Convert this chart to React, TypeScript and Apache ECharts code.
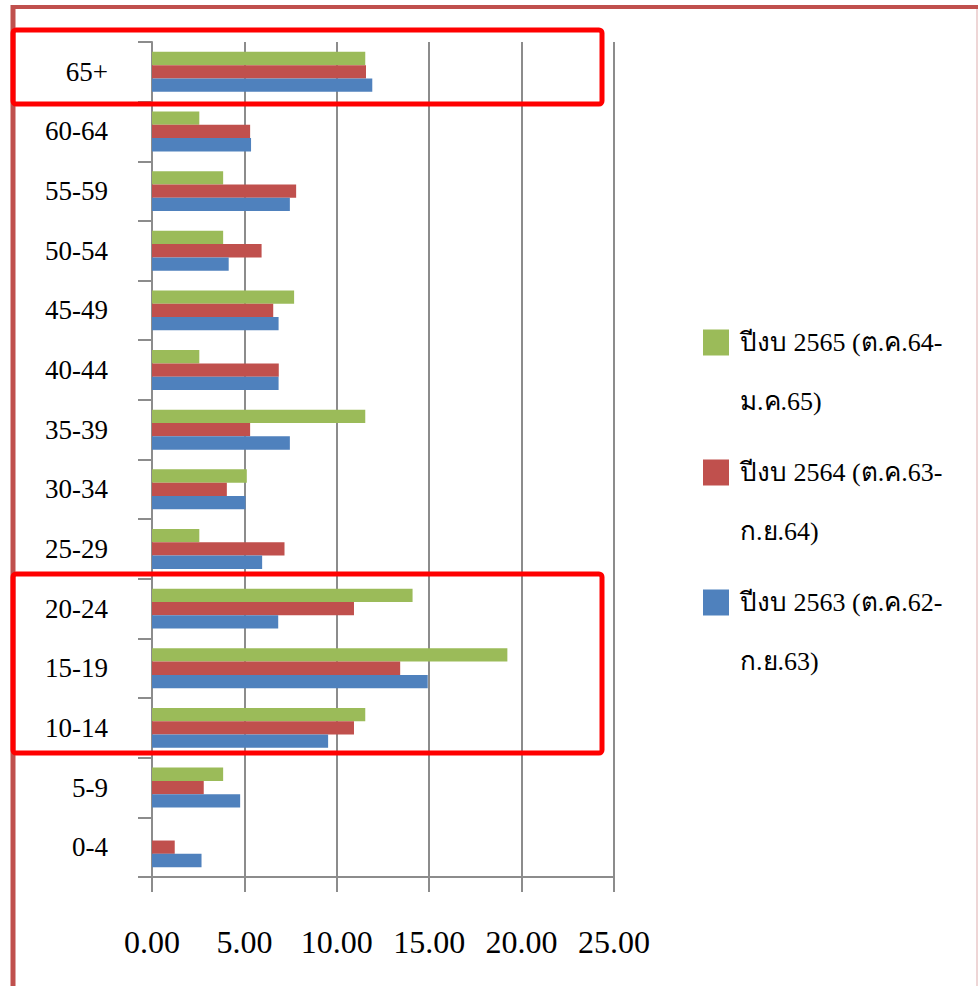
import React, { useEffect, useRef } from "react";
import * as echarts from "echarts";

const categories = ["0-4", "5-9", "10-14", "15-19", "20-24", "25-29", "30-34", "35-39", "40-44", "45-49", "50-54", "55-59", "60-64", "65+"];
const seriesNames = ["ปีงบ 2565 (ต.ค.64-\nม.ค.65)", "ปีงบ 2564 (ต.ค.63-\nก.ย.64)", "ปีงบ 2563 (ต.ค.62-\nก.ย.63)"];
const values2565 = [0, 3.85, 11.54, 19.23, 14.1, 2.56, 5.13, 11.54, 2.56, 7.69, 3.85, 3.85, 2.56, 11.54];
const values2564 = [1.23, 2.8, 10.93, 13.43, 10.93, 7.17, 4.05, 5.31, 6.86, 6.56, 5.93, 7.8, 5.31, 11.58];
const values2563 = [2.68, 4.77, 9.53, 14.92, 6.83, 5.96, 5.06, 7.46, 6.85, 6.85, 4.15, 7.46, 5.36, 11.92];
const colors = ["#9BBB59", "#C0504D", "#4F81BD"];

const FONT = "'Liberation Serif', 'Times New Roman', serif";

export default function App() {
  const ref = useRef<HTMLDivElement>(null);
  useEffect(() => {
    if (!ref.current) return;
    const chart = echarts.init(ref.current, null, { renderer: "svg" });
    const data = [values2565, values2564, values2563];
    const icon = "path://M0 0L0 0M0 16.5L26 16.5L26 42.5L0 42.5ZM0 118L0 118";
    chart.setOption({
      animation: false,
      backgroundColor: "#ffffff",
      grid: { left: 152, right: 364, top: 42, bottom: 109, containLabel: false },
      legend: {
        orient: "vertical",
        left: 698,
        top: 308,
        itemWidth: 26,
        itemHeight: 118,
        itemGap: 12,
        icon: icon,
        itemStyle: { borderWidth: 0 },
        data: seriesNames,
        textStyle: {
          fontFamily: FONT,
          fontSize: 26,
          color: "#000",
          lineHeight: 59,
          padding: [0, 0, 0, 6],
        },
      },
      xAxis: {
        type: "value",
        min: 0,
        max: 25,
        interval: 5,
        axisLine: { show: true, lineStyle: { color: "#8C8C8C", width: 2 } },
        axisTick: { show: true, length: 15, lineStyle: { color: "#8C8C8C", width: 2 } },
        splitLine: { show: true, lineStyle: { color: "#8C8C8C", width: 2 } },
        axisLabel: {
          formatter: (v: number) => v.toFixed(2),
          fontFamily: FONT,
          fontSize: 32,
          color: "#000",
          margin: 49,
        },
      },
      yAxis: {
        type: "category",
        data: categories,
        axisLine: { show: true, lineStyle: { color: "#8C8C8C", width: 2 } },
        axisTick: { show: true, length: 14, lineStyle: { color: "#8C8C8C", width: 2 } },
        axisLabel: {
          fontFamily: FONT,
          fontSize: 27,
          color: "#000",
          margin: 44,
        },
      },
      series: seriesNames.map((name, i) => ({
        name,
        type: "bar",
        data: data[i],
        barWidth: 13.3,
        barGap: "0%",
        itemStyle: { color: colors[i] },
      })),
      graphic: [
        { type: "line", shape: { x1: 11, y1: 7, x2: 978, y2: 7 }, style: { stroke: "#C0504D", lineWidth: 4 }, z: 100 },
        { type: "line", shape: { x1: 13, y1: 5, x2: 13, y2: 986 }, style: { stroke: "#C0504D", lineWidth: 5 }, z: 100 },
        { type: "line", shape: { x1: 977, y1: 9, x2: 977, y2: 986 }, style: { stroke: "#E8C8C8", lineWidth: 1.5 }, z: 100 },
        { type: "rect", shape: { x: 13, y: 30, width: 589, height: 74, r: 3 }, style: { fill: "none", stroke: "#FF0000", lineWidth: 5 }, z: 101 },
        { type: "rect", shape: { x: 13, y: 574, width: 589, height: 179, r: 3 }, style: { fill: "none", stroke: "#FF0000", lineWidth: 5 }, z: 101 },
      ],
    });
    return () => chart.dispose();
  }, []);
  return <div ref={ref} style={{ position: "absolute", left: 0, top: 0, width: 978, height: 986 }} />;
}
